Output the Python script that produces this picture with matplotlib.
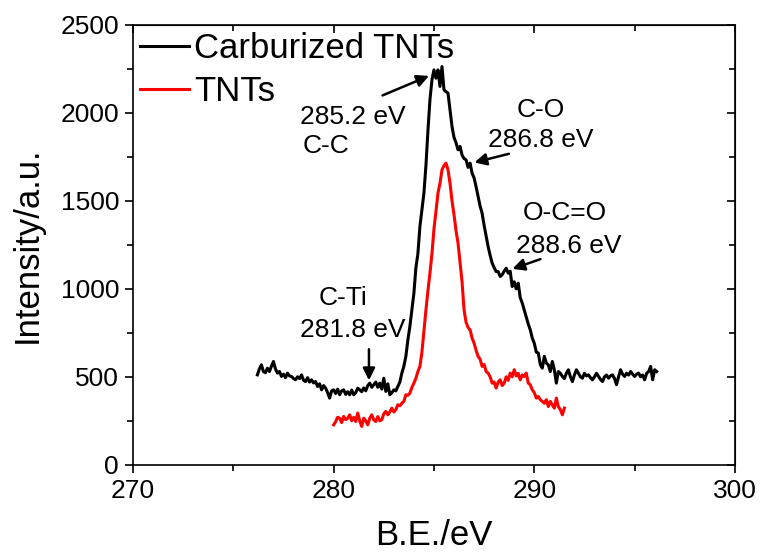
import matplotlib
matplotlib.use("Agg")
import matplotlib.pyplot as plt
from matplotlib.ticker import MultipleLocator

plt.rcParams['font.family'] = ['Liberation Sans', 'DejaVu Sans']

# Carburized TNTs (black)
carb_x = [276.2, 276.3, 276.4, 276.5, 276.6, 276.7, 276.8, 276.9, 277.0, 277.1, 277.2, 277.3, 277.4, 277.5,
          277.6, 277.7, 277.8, 277.9, 278.0, 278.1, 278.2, 278.3, 278.4, 278.5, 278.6, 278.7, 278.8, 278.9,
          279.0, 279.1, 279.2, 279.3, 279.4, 279.5, 279.6, 279.7, 279.8, 279.9, 280.0, 280.1, 280.2, 280.3,
          280.4, 280.5, 280.6, 280.7, 280.8, 280.9, 281.0, 281.1, 281.2, 281.3, 281.4, 281.5, 281.6, 281.7,
          281.8, 281.9, 282.0, 282.1, 282.2, 282.3, 282.4, 282.5, 282.6, 282.7, 282.8, 282.9, 283.0, 283.1,
          283.2, 283.3, 283.4, 283.5, 283.6, 283.7, 283.8, 283.9, 284.0, 284.1, 284.2, 284.3, 284.4, 284.5,
          284.6, 284.7, 284.8, 284.9, 285.0, 285.1, 285.2, 285.3, 285.4, 285.5, 285.6, 285.7, 285.8, 285.9,
          286.0, 286.1, 286.2, 286.3, 286.4, 286.5, 286.6, 286.7, 286.8, 286.9, 287.0, 287.1, 287.2, 287.3,
          287.4, 287.5, 287.6, 287.7, 287.8, 287.9, 288.0, 288.1, 288.2, 288.3, 288.4, 288.5, 288.6, 288.7,
          288.8, 288.9, 289.0, 289.1, 289.2, 289.3, 289.4, 289.5, 289.6, 289.7, 289.8, 289.9, 290.0, 290.1,
          290.2, 290.3, 290.4, 290.5, 290.6, 290.7, 290.8, 290.9, 291.0, 291.1, 291.2, 291.3, 291.4, 291.5,
          291.6, 291.7, 291.8, 291.9, 292.0, 292.1, 292.2, 292.3, 292.4, 292.5, 292.6, 292.7, 292.8, 292.9,
          293.0, 293.1, 293.2, 293.3, 293.4, 293.5, 293.6, 293.7, 293.8, 293.9, 294.0, 294.1, 294.2, 294.3,
          294.4, 294.5, 294.6, 294.7, 294.8, 294.9, 295.0, 295.1, 295.2, 295.3, 295.4, 295.5, 295.6, 295.7,
          295.8, 295.9, 296.0, 296.1]
carb_y = [511, 545, 568, 530, 523, 549, 530, 560, 587, 545, 521, 530, 502, 515,
          495, 521, 505, 502, 490, 483, 500, 490, 511, 480, 473, 495, 470, 483,
          465, 473, 445, 460, 426, 450, 436, 410, 379, 420, 426, 405, 430, 398,
          420, 426, 400, 415, 398, 425, 398, 410, 435, 426, 415, 437, 420, 450,
          464, 440, 455, 470, 440, 464, 430, 492, 417, 460, 398, 410, 426, 420,
          445, 470, 521, 560, 616, 710, 786, 880, 975, 1120, 1200, 1354, 1450, 1544,
          1700, 1900, 2074, 2188, 2244, 2197, 2244, 2150, 2263, 2131, 2120, 2112, 2017, 1922,
          1860, 1830, 1790, 1809, 1760, 1740, 1733, 1690, 1714, 1657, 1630, 1580, 1525, 1470,
          1430, 1360, 1300, 1240, 1190, 1146, 1120, 1098, 1098, 1070, 1080, 1100, 1117, 1089,
          1100, 1013, 1040, 1000, 1032, 950, 919, 880, 843, 800, 767, 720, 691, 640,
          635, 570, 549, 616, 578, 568, 530, 587, 540, 464, 530, 520, 502, 490,
          520, 540, 500, 473, 510, 540, 520, 500, 492, 520, 505, 511, 495, 483,
          500, 520, 502, 485, 473, 500, 510, 492, 505, 511, 490, 455, 500, 540,
          515, 502, 520, 510, 530, 515, 502, 515, 521, 500, 510, 483, 520, 530,
          559, 483, 540, 530]

# TNTs (red)
tnt_x = [280.0, 280.1, 280.2, 280.3, 280.4, 280.5, 280.6, 280.7, 280.8, 280.9, 281.0, 281.1, 281.2, 281.3,
         281.4, 281.5, 281.6, 281.7, 281.8, 281.9, 282.0, 282.1, 282.2, 282.3, 282.4, 282.5, 282.6, 282.7,
         282.8, 282.9, 283.0, 283.1, 283.2, 283.3, 283.4, 283.5, 283.6, 283.7, 283.8, 283.9, 284.0, 284.1,
         284.2, 284.3, 284.4, 284.5, 284.6, 284.7, 284.8, 284.9, 285.0, 285.1, 285.2, 285.3, 285.4, 285.5,
         285.6, 285.7, 285.8, 285.9, 286.0, 286.1, 286.2, 286.3, 286.4, 286.5, 286.6, 286.7, 286.8, 286.9,
         287.0, 287.1, 287.2, 287.3, 287.4, 287.5, 287.6, 287.7, 287.8, 287.9, 288.0, 288.1, 288.2, 288.3,
         288.4, 288.5, 288.6, 288.7, 288.8, 288.9, 289.0, 289.1, 289.2, 289.3, 289.4, 289.5, 289.6, 289.7,
         289.8, 289.9, 290.0, 290.1, 290.2, 290.3, 290.4, 290.5, 290.6, 290.7, 290.8, 290.9, 291.0, 291.1,
         291.2, 291.3, 291.4, 291.5]
tnt_y = [227, 245, 270, 265, 240, 275, 256, 265, 284, 250, 270, 246, 294, 250,
         218, 265, 250, 227, 265, 284, 255, 246, 274, 250, 256, 290, 303, 284,
         300, 322, 300, 313, 341, 335, 350, 360, 398, 395, 407, 440, 464, 492,
         530, 559, 640, 760, 880, 990, 1089, 1200, 1340, 1440, 1544, 1600, 1676, 1700,
         1714, 1676, 1600, 1500, 1420, 1330, 1259, 1150, 1040, 880, 810, 780, 767, 720,
         691, 650, 616, 600, 559, 570, 530, 521, 500, 464, 470, 436, 470, 483,
         450, 464, 500, 480, 521, 500, 540, 505, 520, 483, 510, 502, 521, 464,
         455, 426, 410, 379, 388, 370, 360, 350, 370, 331, 360, 340, 322, 379,
         330, 313, 284, 322]

series_labels = ['Carburized TNTs', 'TNTs']
x_ticks = [270, 280, 290, 300]
y_ticks = [0, 500, 1000, 1500, 2000, 2500]

fig = plt.figure(figsize=(7.6, 5.52), dpi=100)
ax = fig.add_axes([0.175, 0.158, 0.792, 0.797])

ax.plot(carb_x, carb_y, color='black', lw=2.2, label=series_labels[0])
ax.plot(tnt_x, tnt_y, color='#ff0000', lw=2.2, label=series_labels[1])

ax.set_xlim(270, 300)
ax.set_ylim(0, 2500)
ax.set_xticks(x_ticks)
ax.set_yticks(y_ticks)
ax.xaxis.set_minor_locator(MultipleLocator(5))
ax.yaxis.set_minor_locator(MultipleLocator(250))
ax.tick_params(axis='both', which='both', labelsize=19, width=1.2)
ax.tick_params(which='major', length=6, pad=4)
ax.tick_params(which='minor', length=4.5)
ax.tick_params(axis='both', which='both', direction='out', top=False, right=False)
for s in ax.spines.values():
    s.set_linewidth(1.2)

# mirror ticks (inward) on top and right
axt = ax.secondary_xaxis('top')
axt.set_xticks(x_ticks)
axt.xaxis.set_minor_locator(MultipleLocator(5))
axt.tick_params(which='both', direction='in', labeltop=False, width=1.2)
axt.tick_params(which='major', length=6)
axt.tick_params(which='minor', length=4.5)
axr = ax.secondary_yaxis('right')
axr.set_yticks(y_ticks)
axr.yaxis.set_minor_locator(MultipleLocator(250))
axr.tick_params(which='both', direction='in', labelright=False, width=1.2)
axr.tick_params(which='major', length=6)
axr.tick_params(which='minor', length=4.5)

ax.set_xlabel('B.E./eV', fontsize=25, labelpad=12)
ax.set_ylabel('Intensity/a.u.', fontsize=25, labelpad=12)

leg = ax.legend(loc='upper left', frameon=False, fontsize=25, handlelength=1.4,
                handletextpad=0.15, borderaxespad=0.05, labelspacing=0.3,
                borderpad=0.15)

fs = 19
arrow = dict(arrowstyle='-|>', color='black', lw=1.8, mutation_scale=18)
ax.annotate('', xy=(284.88, 2216), xytext=(282.31, 2093), arrowprops=arrow)
ax.text(278.3, 1977, '285.2 eV', fontsize=fs, ha='left', va='center')
ax.text(278.45, 1812, 'C-C', fontsize=fs, ha='left', va='center')

ax.text(290.3, 2018, 'C-O', fontsize=fs, ha='center', va='center')
ax.text(290.3, 1846, '286.8 eV', fontsize=fs, ha='center', va='center')
ax.annotate('', xy=(286.88, 1714), xytext=(288.87, 1771), arrowprops=arrow)

ax.text(291.5, 1432, 'O-C=O', fontsize=fs, ha='center', va='center')
ax.text(291.7, 1245, '288.6 eV', fontsize=fs, ha='center', va='center')
ax.annotate('', xy=(288.78, 1108), xytext=(290.44, 1174), arrowprops=arrow)

ax.text(280.45, 950, 'C-Ti', fontsize=fs, ha='center', va='center')
ax.text(280.95, 768, '281.8 eV', fontsize=fs, ha='center', va='center')
ax.annotate('', xy=(281.76, 464), xytext=(281.76, 672), arrowprops=arrow)

fig.savefig('out.png', dpi=100)
